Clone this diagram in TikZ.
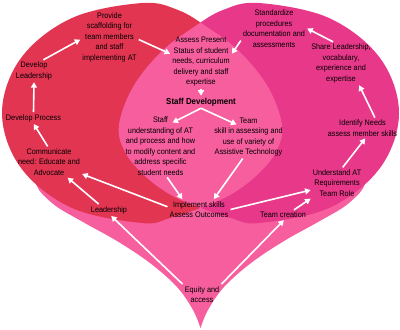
\documentclass[tikz,border=0pt]{standalone}
\usepackage{fontspec}
\setmainfont{Liberation Sans}[FakeStretch=0.91]
\usepackage{tikz}
\usetikzlibrary{arrows.meta,calc}
\definecolor{rossocuore}{HTML}{E23552}
\definecolor{magentacuore}{HTML}{E8388A}
\definecolor{rosacuore}{HTML}{F65E9E}
\tikzset{
  fase/.style={
    align=center, text=black,
    font=\fontsize{8}{10.5}\selectfont,
    inner sep=2pt
  },
  % Titolo centrale in grassetto
  titolo/.style={fase, font=\fontsize{8.7}{10.5}\selectfont\bfseries},
  freccia/.style={-{Triangle[length=5.5pt,width=6pt]}, draw=white, line width=1.6pt}
}

\begin{document}
\begin{tikzpicture}[x=1pt,y=-1pt]
\useasboundingbox (0,0) rectangle (400,330);

% Sfondo a cuore
\fill[rosacuore] plot[smooth,tension=0.6] coordinates {
  (200.5,328) (193,310) (177,287) (150,263) (117,241) (83,222) (52,203) (35,180)
  (40,140) (200,150) (361,140)
  (366,180) (349,203) (318,222) (284,241) (251,263) (224,287) (208,310) (200.5,328)} -- cycle;

% Lobo sinistro e lobo destro
\fill[rossocuore] plot[smooth cycle,tension=0.6] coordinates {
  (2,113) (21,58) (72,18) (142,3) (178,10) (207,27) (240,52) (268,87) (282,125)
  (276,152) (256,176) (230,195) (200,208) (170,218) (142,223) (72,208) (21,168)};
\fill[magentacuore] plot[smooth cycle,tension=0.6] coordinates {
  (399,113) (380,58) (329,18) (259,3) (223,10) (194,27) (161,52) (133,87) (119,125)
  (125,152) (145,176) (171,195) (201,208) (231,218) (259,223) (329,208) (380,168)};

% Zona comune
\begin{scope}
  \clip plot[smooth cycle,tension=0.6] coordinates {
    (2,113) (21,58) (72,18) (142,3) (178,10) (207,27) (240,52) (268,87) (282,125)
    (276,152) (256,176) (230,195) (200,208) (170,218) (142,223) (72,208) (21,168)};
  \fill[rosacuore] plot[smooth cycle,tension=0.6] coordinates {
    (399,113) (380,58) (329,18) (259,3) (223,10) (194,27) (161,52) (133,87) (119,125)
    (125,152) (145,176) (171,195) (201,208) (231,218) (259,223) (329,208) (380,168)};
\end{scope}

% Lato sinistro
\node[fase] (prov) at (109.5,37) {Provide\\scaffolding for\\team members\\and staff\\implementing AT};
\node[fase] (devlead) at (34,71) {Develop\\Leadership};
\node[fase] (devproc) at (33.5,118) {Develop Process};
\node[fase] (comm) at (49,162) {Communicate\\need: Educate and\\Advocate};
\node[fase] (lead) at (109,210) {Leadership};

% Centro
\node[fase] (assess) at (201,62) {Assess Present\\Status of student\\needs, curriculum\\delivery and staff\\expertise};
\node[titolo] (staffdev) at (201,102) {Staff Development};
\node[fase] (staff) at (160.5,146) {Staff\\understanding of AT\\and process and how\\to modify content and\\address specific\\student needs};
\node[fase] (team) at (248.5,137) {Team\\skill in assessing and\\use of variety of\\Assistive Technology};
\node[fase] (impl) at (199,209.5) {Implement skills\\Assess Outcomes};
\node[fase] (equity) at (202,294.5) {Equity and\\access};

% Lato destro
\node[fase] (stand) at (274,28.5) {Standardize\\procedures\\documentation and\\assessments};
\node[fase] (share) at (341,63.5) {Share Leadership,\\vocabulary,\\experience and\\expertise};
\node[fase] (ident) at (362.5,128) {Identify Needs\\assess member skills};
\node[fase] (underst) at (337,183) {Understand AT\\Requirements\\Team Role};
\node[fase] (teamcr) at (283,215) {Team creation};

% Frecce
\draw[freccia] (devlead.50) -- (prov.185);
\draw[freccia] (prov.-5) -- (assess.165);
\draw[freccia] (devproc.north) -- (devlead.south);
\draw[freccia] (comm.95) -- (devproc.-88);
\draw[freccia] (lead.150) -- (comm.-40);
\draw[freccia] (impl.175) -- (comm.-20);
\draw[freccia] (assess.south) -- (staffdev.north);
\draw[freccia] (staffdev.south) -- ([shift={(12,8)}]staff.north);
\draw[freccia] (staffdev.south) -- ([shift={(-12,9)}]team.north);
\draw[freccia] (staff.-78) -- (impl.148);
\draw[freccia] (team.-105) -- (impl.35);
\draw[freccia] (impl.east) -- (underst.195);
\draw[freccia] (teamcr.25) -- (underst.south west);
\draw[freccia] (underst.70) -- (ident.-75);
\draw[freccia] (ident.40) -- (share.-50);
\draw[freccia] (share.110) -- (stand.east);
\draw[freccia] (stand.200) -- (assess.15);
\draw[freccia] (equity.north west) -- (lead.-70);
\draw[freccia] (equity.north east) -- (teamcr.-80);

\end{tikzpicture}
\end{document}
